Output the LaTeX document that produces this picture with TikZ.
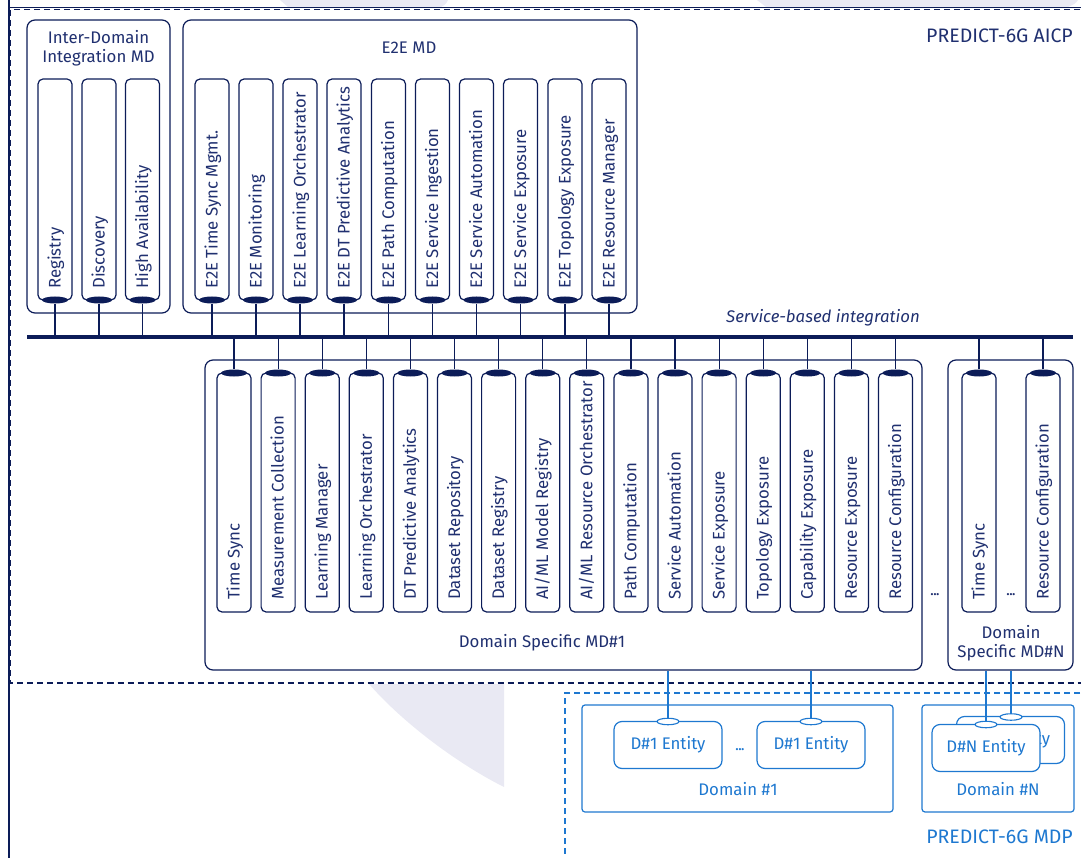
\documentclass[tikz,border=0pt]{standalone}
\usepackage{fontspec}
\setmainfont{Fira Sans}
\usetikzlibrary{shapes.geometric}
\definecolor{navy}{RGB}{12,28,88}
\definecolor{txt}{RGB}{32,48,112}
\definecolor{mdpblue}{RGB}{30,120,208}
\definecolor{wm}{RGB}{233,233,243}
\begin{document}
\begin{tikzpicture}[x=1pt,y=-1pt,
  box/.style={draw=navy, line width=1.2pt, rounded corners=8pt, fill=white, inner sep=0pt},
  pill/.style={draw=navy, line width=1.2pt, rounded corners=5pt, fill=white, minimum width=34pt, inner sep=0pt},
  port/.style={ellipse, fill=navy, minimum width=26pt, minimum height=7pt, inner sep=0pt},
  ptext/.style={rotate=90, anchor=base west, text=txt, font=\fontsize{16.8}{18}\selectfont, inner sep=0pt},
  lbl/.style={text=txt, font=\fontsize{16.8}{20.5}\selectfont, align=center, inner sep=0pt},
  big/.style={font=\fontsize{19.5}{22}\selectfont, inner sep=0pt},
  link/.style={draw=navy, line width=1.2pt},
  dots/.style={text=txt, font=\bfseries\fontsize{12}{12}\selectfont, inner sep=0pt},
  bbox/.style={draw=mdpblue, line width=1.2pt, rounded corners=3pt, inner sep=0pt},
  ent/.style={draw=mdpblue, line width=1.2pt, rounded corners=8pt, fill=white, minimum width=108pt, minimum height=47pt, text=mdpblue, font=\fontsize{16.8}{18}\selectfont, inner sep=0pt},
  bport/.style={ellipse, draw=mdpblue, line width=1.1pt, fill=white, minimum width=22pt, minimum height=6.5pt, inner sep=0pt},
  blink/.style={draw=mdpblue, line width=1.2pt},
  blbl/.style={text=mdpblue, font=\fontsize{16.8}{18}\selectfont, inner sep=0pt}
]
\useasboundingbox (0,0) rectangle (1081,858);
% watermark fragments
\fill[wm] (280,0) -- (448,0) .. controls (446,4) .. (441,7) -- (288,7) .. controls (284,4) .. (280,0) -- cycle;
\fill[wm] (757,0) -- (1078,0) .. controls (1075,4) .. (1068,7) -- (766,7) .. controls (761,4) .. (757,0) -- cycle;
\fill[wm] (369,684) -- (504,684) -- (504,787) .. controls (460,765) and (405,725) .. (369,684) -- cycle;
% outer frame lines
\draw[navy, line width=2pt] (8.5,0) -- (8.5,858);
\draw[navy, line width=1.5pt] (8.5,7.5) -- (1081,7.5);
% AICP dashed area
\draw[navy, line width=1.6pt, dash pattern=on 6pt off 4pt] (1090,9.5) -- (10.5,9.5) -- (10.5,683) -- (1090,683);
\node[big, text=txt, anchor=east] (aicp) at (1073,36) {PREDICT-6G AICP};
% MDP dashed area
\draw[mdpblue, line width=1.2pt, dash pattern=on 6pt off 4pt] (1090,693) -- (565,693) -- (565,870);
\node[big, text=mdpblue, anchor=east] (mdp) at (1073,837) {PREDICT-6G MDP};

% bus
\coordinate (busL) at (27,337);
\coordinate (busR) at (1073,337);
\node[text=txt, font=\itshape\fontsize{16.8}{18}\selectfont, inner sep=0pt] (sbi) at (823,318) {Service-based integration};

% Inter-Domain Integration MD
\node[box, minimum width=143pt, minimum height=293pt] (idi) at (98.5,166.5) {};
\node[lbl] (idil) at (98.5,48) {Inter-Domain\\[-1pt]Integration MD};
\foreach \x/\t/\n in {55/Registry/1, 99/Discovery/2, 142.5/High Availability/3}{
  \node[pill, minimum height=221pt] (ip\n) at (\x,189.5) {};
  \node[ptext] at (\x+5.5,289) {\t};
  \node[port] (ipp\n) at (\x,300) {};
  \draw[link] (ipp\n.south) -- (ipp\n |- busL);
}

% E2E MD
\node[box, minimum width=454pt, minimum height=293pt] (e2e) at (410,166.5) {};
\node[lbl] (e2el) at (409,48) {E2E MD};
\foreach \x/\t/\n in {212/E2E Time Sync Mgmt./1, 256/E2E Monitoring/2, 300/E2E Learning Orchestrator/3, 344/E2E DT Predictive Analytics/4, 388.5/E2E Path Computation/5, 432.5/E2E Service Ingestion/6, 476.5/E2E Service Automation/7, 520.5/E2E Service Exposure/8, 565/E2E Topology Exposure/9, 609/E2E Resource Manager/10}{
  \node[pill, minimum height=221pt] (ep\n) at (\x,189.5) {};
  \node[ptext] at (\x+5.5,289) {\t};
  \node[port] (epp\n) at (\x,300) {};
  \draw[link] (epp\n.south) -- (epp\n |- busL);
}

% Domain Specific MD#1
\node[box, minimum width=717pt, minimum height=310pt] (ds1) at (563.5,515) {};
\node[lbl] (ds1l) at (542,643) {Domain Specific MD\#1};
\foreach \x/\t/\n in {234/Time Sync/1, 278.1/Measurement Collection/2, 322.2/Learning Manager/3, 366.3/Learning Orchestrator/4, 410.4/DT Predictive Analytics/5, 454.5/Dataset Repository/6, 498.6/Dataset Registry/7, 542.7/{AI/ML Model Registry}/8, 586.8/{AI/ML Resource Orchestrator}/9, 630.9/Path Computation/10, 675/Service Automation/11, 719.1/Service Exposure/12, 763.2/Topology Exposure/13, 807.3/Capability Exposure/14, 851.4/Resource Exposure/15, 895.5/Resource Configuration/16}{
  \node[pill, minimum height=239pt] (dp\n) at (\x,492.5) {};
  \node[ptext] at (\x+5.5,600) {\t};
  \node[port] (dpp\n) at (\x,373) {};
  \draw[link] (dpp\n.north) -- (dpp\n |- busL);
}
\node[dots] (dd1) at (935,595) {...};

% Domain Specific MD#N
\node[box, minimum width=125pt, minimum height=310pt] (dsn) at (1010.5,515) {};
\node[lbl] (dsnl) at (1011,643) {Domain\\[-1pt]Specific MD\#N};
\foreach \x/\t/\n in {979/Time Sync/1, 1043/Resource Configuration/2}{
  \node[pill, minimum height=239pt] (np\n) at (\x,492.5) {};
  \node[ptext] at (\x+5.5,600) {\t};
  \node[port] (npp\n) at (\x,373) {};
  \draw[link] (npp\n.north) -- (npp\n |- busL);
}
\node[dots] (dd2) at (1011,595) {...};

\draw[navy, line width=4pt] (busL) -- (busR);

% Domain #1
\node[bbox, minimum width=311pt, minimum height=107pt] (dom1) at (737.5,758.5) {};
\node[blbl] (dom1l) at (738,789) {Domain \#1};
\node[ent] (e1) at (668,745) {D\#1 Entity};
\node[ent] (e2) at (811,745) {D\#1 Entity};
\node[bport] (e1p) at (668,721.5) {};
\node[bport] (e2p) at (811,721.5) {};
\node[dots, text=mdpblue] (dd3) at (740,750) {...};
\draw[blink] (e1p |- ds1.south) -- (e1p.north);
\draw[blink] (e2p |- ds1.south) -- (e2p.north);

% Domain #N
\node[bbox, minimum width=152pt, minimum height=107pt] (domn) at (998,758.5) {};
\node[blbl] (domnl) at (998,789) {Domain \#N};
\node[ent] (n2) at (1010.5,740) {D\#N Entity};
\node[bport] (n2p) at (1011,717) {};
\node[ent] (n1) at (986,748) {D\#N Entity};
\node[bport] (n1p) at (986,724.5) {};
\draw[blink] (n1p |- dsn.south) -- (n1p.north);
\draw[blink] (n2p |- dsn.south) -- (n2p.north);
\end{tikzpicture}
\end{document}
